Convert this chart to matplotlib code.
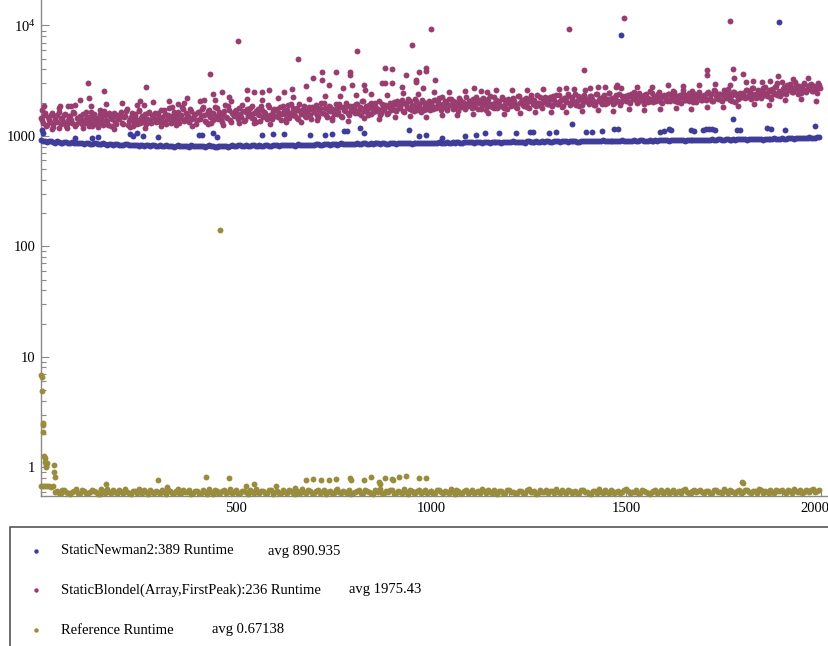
import numpy as np
import matplotlib
matplotlib.use("Agg")
import matplotlib.pyplot as plt
from matplotlib.ticker import FixedLocator, FixedFormatter, LogLocator, MultipleLocator, NullFormatter
from matplotlib.patches import Rectangle
from matplotlib.transforms import ScaledTranslation

plt.rcParams['font.family'] = ['Liberation Serif', 'DejaVu Serif']
plt.rcParams['mathtext.fontset'] = 'custom'
plt.rcParams['mathtext.rm'] = 'Liberation Serif'
plt.rcParams['mathtext.it'] = 'Liberation Serif'

# series labels and averages
labels = ['StaticNewman2:389 Runtime',
          'StaticBlondel(Array,FirstPeak):236 Runtime',
          'Reference Runtime']
averages = ['avg 890.935', 'avg 1975.43', 'avg 0.67138']
colors = ['#3F3D99', '#993D71', '#998D3D']

# StaticNewman2 runtimes, two interleaved samples (every 10 runs)
newman_x = list(range(0, 2000, 10))
newman_y = [
    920, 895, 905, 880, 890, 870, 885, 860, 875, 865,
    865, 850, 870, 845, 860, 840, 855, 835, 850, 840,
    835, 825, 845, 820, 835, 815, 830, 820, 810, 825,
    815, 805, 825, 810, 800, 820, 805, 815, 800, 810,
    805, 815, 800, 820, 805, 795, 815, 810, 800, 820,
    810, 825, 805, 815, 830, 810, 820, 805, 825, 815,
    825, 815, 835, 820, 830, 815, 840, 825, 830, 820,
    835, 845, 830, 850, 835, 845, 830, 855, 840, 850,
    845, 855, 840, 860, 850, 845, 865, 850, 855, 845,
    860, 850, 870, 855, 865, 850, 870, 860, 855, 865,
    870, 860, 875, 865, 880, 860, 870, 875, 865, 880,
    875, 865, 885, 870, 880, 865, 885, 875, 870, 885,
    880, 890, 875, 885, 870, 895, 880, 890, 875, 885,
    890, 880, 900, 885, 895, 880, 900, 890, 885, 895,
    900, 890, 905, 895, 910, 890, 900, 905, 895, 910,
    905, 895, 915, 900, 910, 895, 915, 905, 900, 910,
    915, 905, 920, 910, 925, 905, 915, 920, 910, 925,
    925, 915, 935, 920, 930, 915, 935, 925, 920, 935,
    935, 925, 945, 930, 940, 925, 945, 935, 950, 940,
    950, 940, 960, 945, 955, 965, 950, 970, 960, 975,
]
newman_x2 = list(range(5, 2000, 10))
newman_y2 = [
    905, 885, 895, 870, 880, 865, 875, 870, 860, 870,
    855, 860, 845, 855, 850, 845, 845, 840, 835, 845,
    830, 840, 825, 830, 820, 825, 815, 825, 820, 815,
    820, 810, 815, 805, 815, 810, 810, 805, 820, 805,
    815, 805, 810, 810, 800, 810, 805, 815, 810, 810,
    820, 815, 820, 810, 820, 815, 815, 820, 810, 825,
    820, 830, 825, 830, 825, 830, 830, 835, 825, 835,
    840, 835, 845, 840, 845, 840, 845, 845, 850, 845,
    850, 850, 855, 850, 855, 855, 855, 860, 850, 860,
    855, 860, 860, 865, 860, 860, 865, 865, 860, 870,
    865, 870, 870, 870, 870, 875, 880, 870, 875, 875,
    880, 875, 875, 880, 875, 880, 875, 880, 880, 875,
    885, 880, 885, 880, 890, 885, 885, 880, 890, 890,
    885, 890, 890, 895, 890, 890, 895, 885, 895, 900,
    895, 900, 900, 900, 900, 905, 895, 900, 905, 905,
    900, 905, 905, 910, 905, 905, 905, 910, 910, 915,
    910, 915, 915, 915, 915, 920, 920, 915, 920, 920,
    920, 925, 925, 930, 925, 930, 925, 930, 930, 930,
    930, 935, 935, 940, 935, 935, 940, 945, 940, 945,
    945, 950, 950, 955, 960, 955, 960, 960, 965, 970,
]
newman_out_x = [2, 4, 87, 131, 146, 228, 236, 245, 262, 300, 406, 412, 441, 452,
                566, 594, 623, 690, 728, 747, 777, 784, 818, 828, 944, 970, 987,
                1027, 1088, 1114, 1139, 1174, 1218, 1254, 1262, 1303, 1321, 1362,
                1396, 1413, 1437, 1470, 1478, 1486, 1587, 1596, 1609, 1615, 1666,
                1674, 1697, 1705, 1712, 1720, 1728, 1775, 1784, 1792, 1861, 1871,
                1892, 1908, 1983]
newman_out_y = [1130, 1060, 965, 965, 975, 1030, 1000, 1055, 990, 970, 1017, 1017, 1053, 975,
                1010, 1045, 1045, 1010, 1017, 1038, 1098, 1098, 1185, 1053, 1120, 996, 1010,
                963, 990, 1025, 1068, 1068, 1068, 1075, 1075, 1053, 1075, 1277,
                1075, 1075, 1114, 1145, 1150, 8220, 1080, 1114, 1145, 1120, 1120,
                1110, 1140, 1150, 1145, 1150, 1140, 1437, 1140, 1140, 1185, 1160,
                10670, 1140, 1218]

# StaticBlondel runtimes, interleaved samples (every 5 runs) plus band edges
blondel_x = list(range(0, 2000, 5))
blondel_y = [
    1450, 1320, 1610, 1250, 1390, 1540, 1200, 1470, 1350, 1660, 1290, 1420, 1560, 1230, 1380, 1500, 1310, 1620, 1270, 1440,
    1520, 1280, 1400, 1650, 1340, 1470, 1220, 1580, 1390, 1300, 1700, 1450, 1260, 1530, 1370, 1610, 1240, 1480, 1350, 1560,
    1420, 1630, 1290, 1510, 1750, 1360, 1470, 1240, 1590, 1400, 1680, 1310, 1520, 1440, 1270, 1620, 1380, 1550, 1460, 1330,
    1600, 1350, 1490, 1720, 1280, 1560, 1420, 1810, 1380, 1500, 1650, 1300, 1540, 1760, 1410, 1480, 1330, 1690, 1450, 1570,
    1390, 1640, 1500, 1830, 1360, 1570, 1710, 1300, 1610, 1450, 1780, 1420, 1550, 1340, 1680, 1490, 1860, 1400, 1620, 1520,
    1700, 1430, 1580, 1900, 1370, 1650, 1520, 1780, 1450, 1600, 1330, 1740, 1560, 1880, 1480, 1620, 1410, 1810, 1540, 1690,
    1500, 1760, 1620, 1390, 1850, 1580, 1700, 1460, 1930, 1640, 1520, 1790, 1430, 1680, 1600, 1870, 1490, 1730, 1560, 1820,
    1650, 1900, 1480, 1780, 1600, 1980, 1540, 1720, 1840, 1450, 1690, 1760, 1590, 1950, 1520, 1810, 1670, 1880, 1560, 1740,
    1860, 1620, 1950, 1700, 1540, 2050, 1780, 1640, 1910, 1580, 1820, 2000, 1680, 1760, 1550, 1930, 1720, 1870, 1610, 1990,
    1750, 2030, 1680, 1900, 1820, 2120, 1640, 1960, 1780, 2060, 1700, 1880, 2150, 1730, 1940, 1660, 2010, 1850, 1770, 2080,
    1980, 1760, 2100, 1850, 2200, 1710, 1950, 2060, 1800, 1900, 2170, 1740, 2030, 1880, 1690, 2120, 1930, 1820, 2240, 1870,
    2050, 1800, 1960, 2230, 1750, 2100, 1890, 2010, 1720, 2180, 1940, 1830, 2270, 1990, 1780, 2080, 1870, 2150, 1930, 1760,
    2090, 1850, 2200, 1950, 1780, 2280, 2010, 1900, 2150, 1820, 2060, 2330, 1930, 2100, 1870, 1990, 2250, 1800, 2040, 2180,
    1960, 2230, 1880, 2120, 2350, 1940, 2060, 1830, 2200, 2010, 2290, 1910, 2150, 1990, 2380, 2080, 1870, 2240, 2030, 2140,
    2180, 1950, 2300, 2060, 1890, 2400, 2120, 2010, 2260, 1930, 2170, 2450, 2050, 2220, 1980, 2330, 2090, 1900, 2280, 2150,
    2070, 2350, 1980, 2230, 2480, 2110, 2010, 2290, 2160, 1940, 2390, 2200, 2080, 2430, 2020, 2250, 2120, 2510, 2040, 2310,
    2260, 2050, 2400, 2150, 2530, 2090, 2320, 2210, 1990, 2460, 2130, 2360, 2070, 2280, 2560, 2180, 2010, 2420, 2240, 2120,
    2340, 2100, 2480, 2220, 2050, 2590, 2300, 2160, 2420, 2080, 2370, 2250, 2640, 2130, 2290, 2500, 2040, 2410, 2200, 2330,
    2450, 2220, 2600, 2350, 2150, 2700, 2400, 2280, 2560, 2190, 2480, 2760, 2310, 2530, 2250, 2650, 2380, 2820, 2440, 2300,
    2550, 2800, 2420, 2700, 2950, 2500, 2650, 2880, 2380, 2750, 2600, 3000, 2480, 2820, 2680, 2930, 2560, 2780, 2450, 2900,
]
blondel_x2 = list(range(2, 2000, 5))
blondel_y2 = [
    1380, 1560, 1240, 1470, 1330, 1620, 1290, 1410, 1530, 1190, 1460, 1350, 1580, 1270, 1500, 1400, 1650, 1220, 1450, 1340,
    1410, 1590, 1300, 1480, 1230, 1640, 1360, 1520, 1270, 1440, 1570, 1330, 1690, 1390, 1250, 1500, 1420, 1620, 1290, 1460,
    1550, 1320, 1480, 1690, 1260, 1430, 1600, 1370, 1520, 1280, 1730, 1450, 1350, 1580, 1410, 1660, 1300, 1490, 1620, 1390,
    1470, 1700, 1340, 1590, 1430, 1780, 1310, 1520, 1640, 1390, 1560, 1450, 1830, 1360, 1610, 1500, 1740, 1420, 1540, 1290,
    1660, 1420, 1750, 1530, 1350, 1690, 1480, 1600, 1380, 1820, 1510, 1640, 1430, 1570, 1900, 1460, 1720, 1350, 1580, 1680,
    1550, 1800, 1470, 1680, 1390, 1760, 1610, 1500, 1850, 1420, 1690, 1580, 1360, 1720, 1640, 1490, 1920, 1560, 1430, 1750,
    1720, 1480, 1830, 1570, 1680, 1410, 1900, 1620, 1530, 1780, 1690, 1450, 1960, 1580, 1740, 1500, 1650, 1840, 1420, 1700,
    1830, 1560, 1700, 2000, 1620, 1790, 1490, 1870, 1680, 1750, 1580, 1930, 1640, 1810, 1470, 1720, 1980, 1600, 1850, 1690,
    1740, 1950, 1600, 1830, 2060, 1690, 1880, 1560, 1790, 1970, 1650, 1860, 1730, 2080, 1620, 1800, 1920, 1580, 1840, 1710,
    1920, 1710, 2080, 1800, 1950, 1670, 2000, 1840, 2180, 1760, 1910, 1690, 2050, 1880, 1790, 2110, 1730, 1980, 1850, 1700,
    1850, 2120, 1780, 2010, 1910, 2250, 1830, 1980, 1720, 2140, 1890, 2070, 1790, 1960, 2200, 1840, 2030, 1750, 1940, 2090,
    1890, 2150, 1820, 2060, 1970, 1740, 2210, 1900, 2080, 1850, 2300, 1950, 1800, 2120, 2020, 1880, 2240, 1790, 2000, 2170,
    1940, 2170, 2050, 1830, 2290, 1970, 2120, 1880, 2200, 2020, 1790, 2260, 2080, 1920, 2350, 2000, 1860, 2140, 2230, 1950,
    2120, 1900, 2280, 2040, 1960, 2330, 2100, 1850, 2190, 2070, 2420, 1980, 2250, 2030, 1920, 2310, 2150, 1890, 2360, 2060,
    2030, 2290, 2140, 1920, 2380, 2080, 2200, 1960, 2340, 2110, 2000, 2470, 2160, 1940, 2250, 2090, 2410, 2020, 2190, 2310,
    2230, 2020, 2400, 2140, 2300, 1990, 2460, 2180, 2070, 2350, 2240, 2010, 2540, 2150, 2280, 2060, 2420, 2190, 1970, 2370,
    2150, 2390, 2080, 2300, 2490, 2200, 2040, 2350, 2230, 2580, 2110, 2270, 2440, 2160, 2020, 2380, 2250, 2510, 2100, 2320,
    2200, 2450, 2150, 2380, 2060, 2550, 2270, 2400, 2120, 2330, 2620, 2190, 2460, 2280, 2090, 2520, 2360, 2170, 2440, 2240,
    2320, 2580, 2260, 2490, 2700, 2370, 2210, 2620, 2410, 2290, 2730, 2450, 2330, 2590, 2180, 2500, 2790, 2360, 2550, 2420,
    2680, 2450, 2900, 2600, 2780, 2520, 3050, 2640, 2850, 2470, 2720, 2960, 2580, 2700, 2900, 2530, 2840, 2650, 2990, 2740,
]
blondel_x3 = list(range(7, 2000, 20))
blondel_y3 = [
    1850, 1150, 1800, 1180, 1900, 1170, 1880, 1200, 1950, 1160,
    1980, 1210, 1920, 1190, 2010, 1230, 2050, 1250, 1990, 1220,
    2080, 1270, 2120, 1250, 2060, 1300, 2150, 1320, 2100, 1290,
    2200, 1350, 2250, 1330, 2180, 1380, 2280, 1400, 2320, 1370,
    2350, 1440, 2400, 1420, 2330, 1490, 2450, 1520, 2420, 1480,
    2500, 1550, 2480, 1530, 2560, 1580, 2550, 1600, 2600, 1570,
    2620, 1620, 2580, 1640, 2650, 1660, 2680, 1650, 2640, 1680,
    2720, 1700, 2760, 1690, 2700, 1740, 2800, 1720, 2780, 1760,
    2860, 1780, 2830, 1770, 2880, 1830, 2940, 1810, 2900, 1850,
    3050, 1930, 3100, 1900, 3020, 2100, 3300, 2150, 3350, 2080,
]
blondel_out_x = [2, 49, 70, 77, 100, 121, 122, 162, 254, 264, 270, 352, 375, 418, 432, 442,
                 463, 483, 506, 527, 546, 566, 584, 623, 643, 660, 680, 697, 720, 721,
                 737, 756, 775, 792, 793, 796, 809, 827, 831, 873, 882, 883, 900, 901,
                 926, 935, 952, 961, 962, 970, 980, 987, 988, 1001, 1010, 1109, 1143,
                 1346, 1354, 1391, 1394, 1429, 1474, 1476, 1495, 1707, 1708, 1767,
                 1775, 1776, 1800, 1825, 1869, 1888, 1899]
blondel_out_y = [1710, 1860, 1850, 1880, 2130, 3020, 2190, 2530, 2090, 1890, 2790, 1950, 2190, 2100, 3630, 2400,
                 2480, 2240, 7260, 2590, 2500, 2520, 2590, 2500, 2660, 4950, 2850, 3320, 3230, 3760,
                 2870, 3760, 2720, 3760, 3580, 2910, 5880, 2910, 2620, 3010, 4110, 3010, 4060, 3010,
                 2770, 3580, 6680, 3230, 3060, 3790, 2720, 4110, 3830, 9300, 3230, 2700, 2480,
                 2700, 9220, 3970, 2620, 2770, 2800, 2910, 11800, 3920, 3580, 11000,
                 4060, 3340, 3630, 3120, 3170, 3460, 3050]

# reference runtimes, two interleaved samples (every 10 runs)
reference_x = list(range(0, 2000, 10))
reference_y = [
    0.68, 0.68, 0.67, 0.68, 0.61, 0.59, 0.62, 0.58, 0.60, 0.63,
    0.59, 0.61, 0.58, 0.62, 0.60, 0.57, 0.61, 0.63, 0.59, 0.60,
    0.62, 0.58, 0.60, 0.57, 0.61, 0.63, 0.59, 0.60, 0.62, 0.58,
    0.60, 0.62, 0.57, 0.61, 0.59, 0.63, 0.58, 0.60, 0.62, 0.59,
    0.61, 0.58, 0.60, 0.63, 0.57, 0.61, 0.59, 0.62, 0.60, 0.58,
    0.62, 0.59, 0.61, 0.57, 0.60, 0.63, 0.58, 0.61, 0.59, 0.62,
    0.60, 0.58, 0.62, 0.59, 0.61, 0.57, 0.60, 0.63, 0.59, 0.61,
    0.58, 0.62, 0.60, 0.57, 0.61, 0.59, 0.63, 0.58, 0.60, 0.62,
    0.59, 0.61, 0.58, 0.62, 0.60, 0.57, 0.61, 0.63, 0.59, 0.60,
    0.62, 0.58, 0.60, 0.63, 0.57, 0.61, 0.59, 0.62, 0.60, 0.58,
    0.61, 0.59, 0.62, 0.58, 0.60, 0.63, 0.57, 0.61, 0.59, 0.62,
    0.60, 0.58, 0.61, 0.63, 0.59, 0.60, 0.62, 0.57, 0.61, 0.59,
    0.62, 0.60, 0.58, 0.61, 0.59, 0.63, 0.60, 0.57, 0.62, 0.60,
    0.58, 0.61, 0.63, 0.59, 0.60, 0.62, 0.58, 0.61, 0.59, 0.62,
    0.60, 0.57, 0.61, 0.63, 0.59, 0.60, 0.62, 0.58, 0.61, 0.60,
    0.63, 0.59, 0.60, 0.58, 0.62, 0.60, 0.57, 0.61, 0.59, 0.62,
    0.60, 0.58, 0.62, 0.60, 0.59, 0.63, 0.58, 0.61, 0.60, 0.62,
    0.59, 0.61, 0.58, 0.62, 0.60, 0.63, 0.59, 0.61, 0.58, 0.62,
    0.60, 0.62, 0.59, 0.61, 0.63, 0.58, 0.60, 0.62, 0.59, 0.61,
    0.62, 0.59, 0.61, 0.63, 0.60, 0.58, 0.62, 0.60, 0.63, 0.61,
]
reference_x2 = list(range(5, 2000, 10))
reference_y2 = [
    0.67, 0.68, 0.66, 0.60, 0.58, 0.62, 0.60, 0.57, 0.61, 0.59,
    0.62, 0.58, 0.60, 0.61, 0.57, 0.63, 0.59, 0.60, 0.62, 0.58,
    0.60, 0.63, 0.58, 0.61, 0.59, 0.60, 0.62, 0.57, 0.60, 0.61,
    0.58, 0.60, 0.62, 0.59, 0.61, 0.58, 0.62, 0.60, 0.57, 0.61,
    0.59, 0.62, 0.57, 0.60, 0.62, 0.59, 0.61, 0.58, 0.63, 0.60,
    0.58, 0.61, 0.60, 0.62, 0.58, 0.60, 0.61, 0.59, 0.62, 0.57,
    0.61, 0.59, 0.60, 0.62, 0.58, 0.61, 0.59, 0.60, 0.62, 0.58,
    0.61, 0.59, 0.62, 0.60, 0.58, 0.62, 0.60, 0.61, 0.59, 0.57,
    0.60, 0.62, 0.59, 0.61, 0.58, 0.62, 0.60, 0.59, 0.61, 0.62,
    0.58, 0.61, 0.59, 0.60, 0.62, 0.58, 0.61, 0.59, 0.62, 0.60,
    0.59, 0.62, 0.60, 0.61, 0.58, 0.60, 0.62, 0.59, 0.61, 0.58,
    0.62, 0.60, 0.59, 0.61, 0.62, 0.58, 0.60, 0.61, 0.59, 0.62,
    0.60, 0.58, 0.61, 0.59, 0.62, 0.60, 0.61, 0.58, 0.60, 0.62,
    0.61, 0.59, 0.60, 0.62, 0.58, 0.61, 0.60, 0.59, 0.62, 0.60,
    0.58, 0.61, 0.59, 0.60, 0.62, 0.58, 0.61, 0.60, 0.59, 0.62,
    0.61, 0.60, 0.62, 0.59, 0.61, 0.58, 0.60, 0.62, 0.60, 0.59,
    0.62, 0.60, 0.59, 0.61, 0.62, 0.60, 0.59, 0.62, 0.61, 0.60,
    0.61, 0.59, 0.62, 0.60, 0.59, 0.61, 0.62, 0.60, 0.61, 0.59,
    0.62, 0.60, 0.61, 0.59, 0.62, 0.61, 0.59, 0.60, 0.62, 0.61,
    0.60, 0.62, 0.59, 0.61, 0.62, 0.60, 0.61, 0.62, 0.60, 0.62,
]
reference_out_x = [1, 2, 3, 4, 5, 6, 8, 9, 10, 12, 13, 15, 33, 34, 35,
                   167, 300, 322, 423, 459, 482, 526, 545, 603, 651, 679, 698, 718,
                   737, 756, 792, 795, 828, 846, 867, 869, 882, 900, 902, 918, 935,
                   969, 987, 1797, 1799]
reference_out_y = [6.8, 6.6, 4.9, 2.5, 2.4, 2.1, 1.27, 1.12, 1.2, 1.05, 1.0, 1.1, 1.05, 0.91, 0.82,
                   0.71, 0.77, 0.66, 0.82, 142, 0.80, 0.68, 0.71, 0.67, 0.65, 0.76, 0.79, 0.76,
                   0.77, 0.78, 0.80, 0.76, 0.77, 0.82, 0.74, 0.71, 0.80, 0.79, 0.76, 0.81, 0.83,
                   0.80, 0.80, 0.74, 0.72]

fig = plt.figure(figsize=(8.29, 6.46), dpi=100)
ax = fig.add_axes([41 / 829, 150 / 646, 788 / 829, 496 / 646])

series = [(newman_x + newman_x2 + newman_out_x,
           newman_y + newman_y2 + newman_out_y),
          (blondel_x + blondel_x2 + blondel_x3 + blondel_out_x,
           blondel_y + blondel_y2 + blondel_y3 + blondel_out_y),
          (reference_x + reference_x2 + reference_out_x,
           reference_y + reference_y2 + reference_out_y)]
for (xs, ys), c in zip(series, colors):
    ax.scatter(xs, ys, s=18, color=c, linewidths=0, clip_on=False, zorder=3)

ax.set_yscale('log')
ax.set_xlim(0, 2020)
ax.set_ylim(0.549, 17000)

for side in ['top', 'right']:
    ax.spines[side].set_visible(False)
for side in ['left', 'bottom']:
    ax.spines[side].set_color('#8a8a8a')
    ax.spines[side].set_linewidth(1.0)

ax.yaxis.set_major_locator(FixedLocator([1, 10, 100, 1000, 10000]))
ax.yaxis.set_major_formatter(FixedFormatter(['1', '10', '100', '1000', r'$10^4$']))
ax.yaxis.set_minor_locator(LogLocator(base=10, subs=np.arange(2, 10)))
ax.yaxis.set_minor_formatter(NullFormatter())
ax.xaxis.set_major_locator(FixedLocator([500, 1000, 1500, 2000]))
ax.xaxis.set_minor_locator(MultipleLocator(100))

ax.tick_params(which='both', direction='in', color='#8a8a8a', labelsize=10.5, width=0.8)
ax.tick_params(which='major', length=6)
ax.tick_params(which='minor', length=3.5)
ax.tick_params(axis='y', pad=4)
ax.tick_params(axis='x', pad=4)

# keep the last x label inside the figure edge
fig.canvas.draw()
last = ax.get_xticklabels()[-1]
last.set_transform(last.get_transform() + ScaledTranslation(-6 / 100, 0, fig.dpi_scale_trans))

# legend panel underneath the plot
fig.patches.append(Rectangle((10 / 829, -0.05), 1.0, (646 - 527) / 646 + 0.05,
                             transform=fig.transFigure, fill=False,
                             edgecolor='#555555', linewidth=1.2))
row_y = [551, 590, 630]
avg_x = [268, 349, 212]
for lab, avg, c, ry, ax_ in zip(labels, averages, colors, row_y, avg_x):
    yy = 1 - ry / 646
    fig.add_artist(plt.Line2D([36 / 829], [yy], marker='o', markersize=3.2,
                              color=c, markeredgewidth=0, transform=fig.transFigure))
    fig.text(61 / 829, yy, lab, fontsize=10.5, va='center', ha='left')
    fig.text(ax_ / 829, yy, avg, fontsize=10.5, va='center', ha='left')

fig.savefig('out.png', dpi=100)
